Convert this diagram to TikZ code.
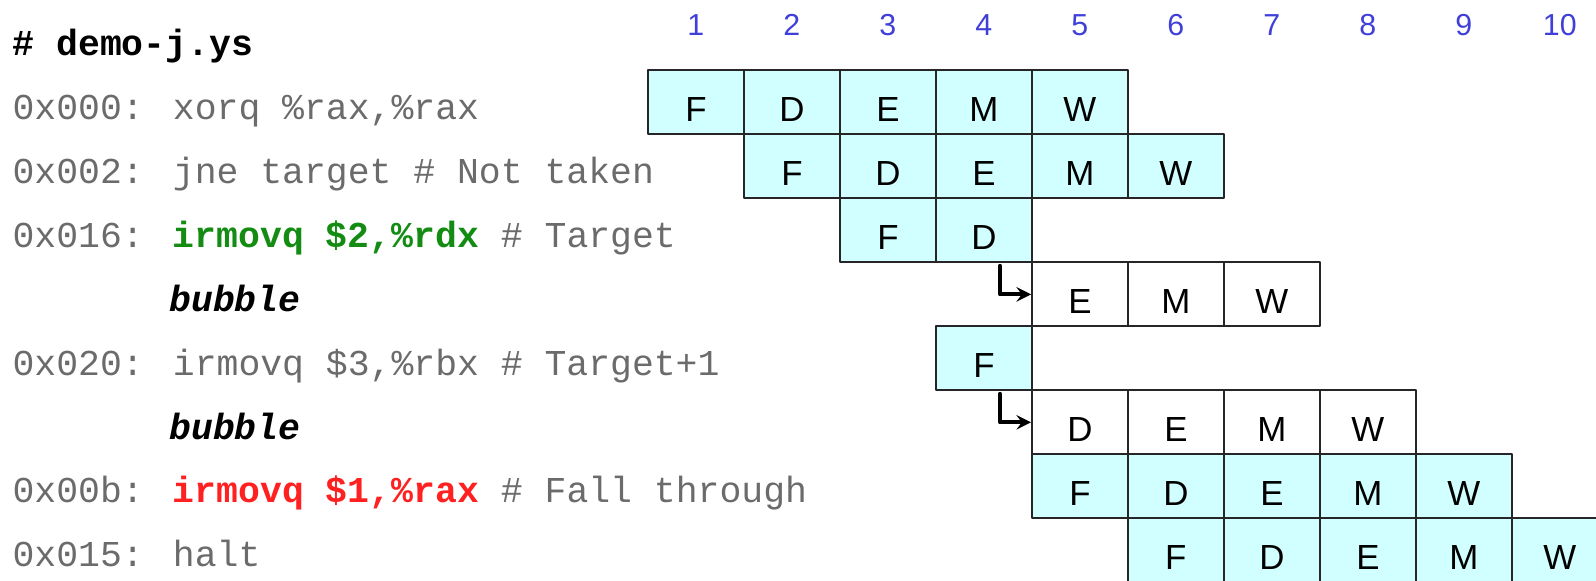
\documentclass[tikz,border=0pt]{standalone}
\usepackage{fontspec}
\setmainfont{Liberation Sans}
\newfontfamily\codefont{Liberation Mono}
\definecolor{cellcyan}{rgb}{0.82,1.,1.}
\definecolor{numblue}{rgb}{0.25,0.25,0.85}
\definecolor{codegray}{rgb}{0.42,0.42,0.42}
\definecolor{tgtgreen}{rgb}{0.08,0.55,0.08}
\definecolor{fallred}{rgb}{1.,0.13,0.13}
\tikzset{
  stage/.style={draw=black!85,line width=0.8pt,minimum width=1.5cm,minimum height=1cm,
    inner sep=0pt,font=\fontsize{15.5}{18}\selectfont},
  live/.style={stage,fill=cellcyan},
  idle/.style={stage,fill=white},
  cyclenum/.style={anchor=base,text=numblue,font=\fontsize{13.5}{16}\selectfont},
  codeline/.style={anchor=base west,inner sep=0pt,text=codegray,font=\codefont\fontsize{16.2}{19}\selectfont},
  bubarrow/.style={->,>=stealth,line width=1.8pt}
}
\begin{document}
\begin{tikzpicture}[line cap=round,line join=round,x=1.0cm,y=1.0cm]
	\clip(0,0) rectangle (24.94,-9.078);
	% cycle numbers
	\foreach \c in {1,...,10}
		\node[cyclenum] (n\c) at (9.375+1.5*\c,-0.55) {\c};
	% program text
	\node[codeline,text=black] (hdr) at (0.19,-0.87) {\bfseries \# demo-j.ys};
	\node[codeline] (l1) at (0.19,-1.86) {0x000: xorq \%rax,\%rax};
	\node[codeline] (l2) at (0.19,-2.86) {0x002: jne target \# Not taken};
	\node[codeline] (l3) at (0.19,-3.86) {0x016: {\color{tgtgreen}\bfseries irmovq \$2,\%rdx} \# Target};
	\node[codeline,text=black] (l4) at (2.64,-4.86) {\bfseries\itshape bubble};
	\node[codeline] (l5) at (0.19,-5.86) {0x020: irmovq \$3,\%rbx \# Target+1};
	\node[codeline,text=black] (l6) at (2.64,-6.86) {\bfseries\itshape bubble};
	\node[codeline] (l7) at (0.19,-7.86) {0x00b: {\color{fallred}\bfseries irmovq \$1,\%rax} \# Fall through};
	\node[codeline] (l8) at (0.19,-8.86) {0x015: halt};
	% pipeline cells: row / first cycle / style / stages
	\foreach \r/\s/\k/\st in {1/1/live/{F,D,E,M,W},2/2/live/{F,D,E,M,W},3/3/live/{F,D},
			4/5/idle/{E,M,W},5/4/live/{F},6/5/idle/{D,E,M,W},
			7/5/live/{F,D,E,M,W},8/6/live/{F,D,E,M,W}}
		\foreach \x [count=\i from \s] in \st
			\node[\k] (r\r c\i) at (9.375+1.5*\i,-1.1-\r+0.5) {};
	% stage letters, set a bit low in their cells
	\foreach \r/\s/\st in {1/1/{F,D,E,M,W},2/2/{F,D,E,M,W},3/3/{F,D},4/5/{E,M,W},5/4/{F},
			6/5/{D,E,M,W},7/5/{F,D,E,M,W},8/6/{F,D,E,M,W}}
		\foreach \x [count=\i from \s] in \st
			\node[anchor=base,inner sep=0pt,font=\fontsize{15.5}{18}\selectfont] (t\r c\i) at ([yshift=-0.3cm]r\r c\i.center) {\x};
	% injected bubbles
	\draw[bubarrow] ([xshift=0.25cm,yshift=-0.04cm]r3c4.south) |- (r4c5.west);
	\draw[bubarrow] ([xshift=0.25cm,yshift=-0.04cm]r5c4.south) |- (r6c5.west);
\end{tikzpicture}
\end{document}
